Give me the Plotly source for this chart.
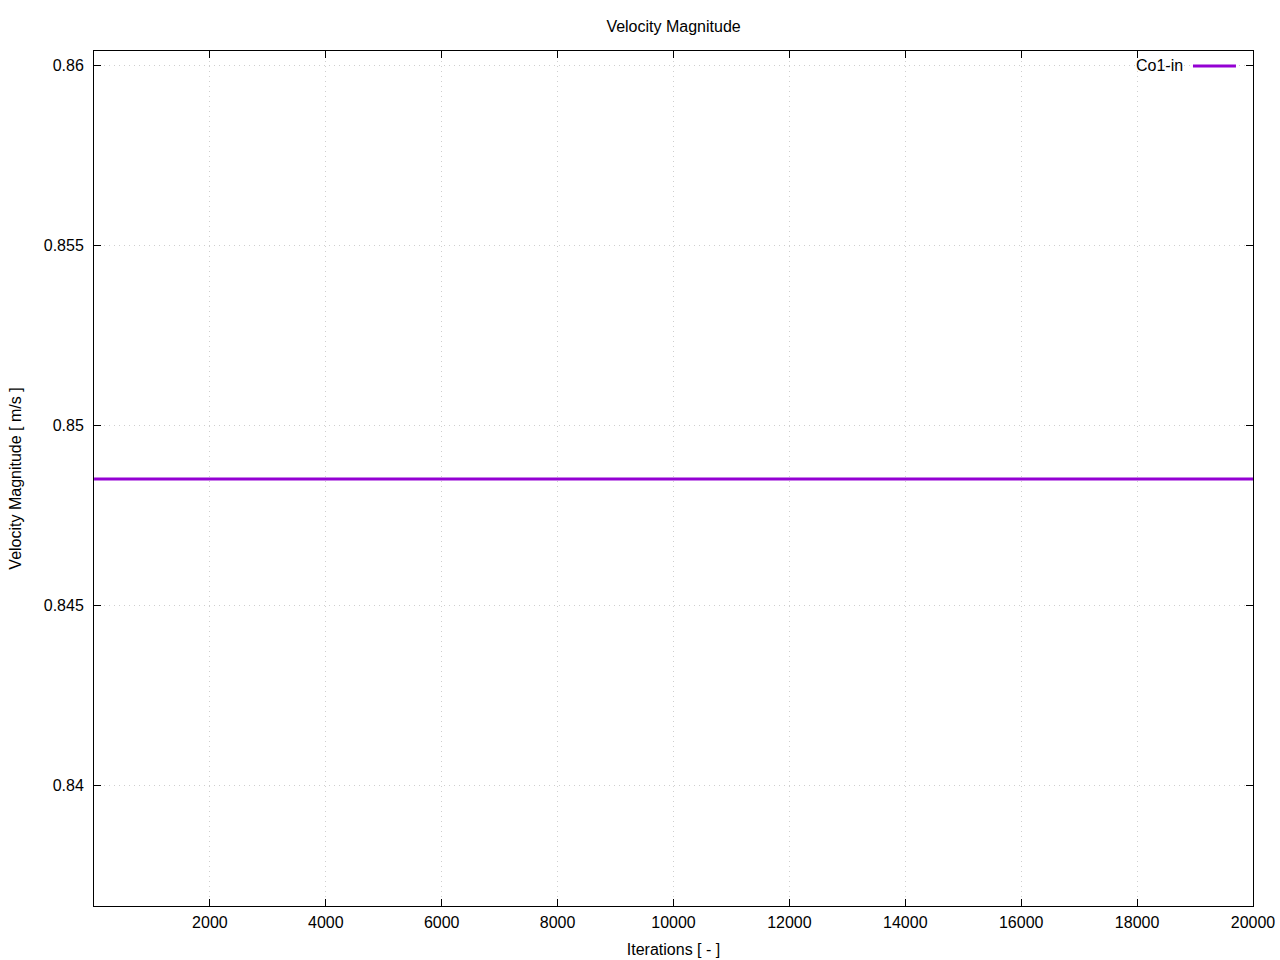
import plotly.graph_objects as go

iterations = [1, 2000, 4000, 6000, 8000, 10000, 12000, 14000, 16000, 18000, 20000]
velocity = [0.8485, 0.8485, 0.8485, 0.8485, 0.8485, 0.8485, 0.8485, 0.8485, 0.8485, 0.8485, 0.8485]
series_name = "Co1-in"
x_ticks = [2000, 4000, 6000, 8000, 10000, 12000, 14000, 16000, 18000, 20000]
x_tick_text = ["2000", "4000", "6000", "8000", "10000", "12000", "14000", "16000", "18000", "20000"]
y_ticks = [0.84, 0.845, 0.85, 0.855, 0.86]
y_tick_text = ["0.84", "0.845", "0.85", "0.855", "0.86"]

color = "#9400D3"
font = "Liberation Sans, Arial, sans-serif"

fig = go.Figure()
fig.add_trace(go.Scatter(x=iterations, y=velocity, mode="lines", name=series_name,
                         line=dict(color=color, width=3), showlegend=False))

axis_common = dict(showline=True, linecolor="black", linewidth=1, mirror="ticks",
                   ticks="inside", ticklen=7, tickcolor="black", showgrid=True,
                   gridcolor="#cfcfcf", griddash="1px,4px", gridwidth=1, zeroline=False,
                   automargin=False,
                   tickfont=dict(family=font, size=16, color="black"))

fig.update_xaxes(range=[0, 20000], tickvals=x_ticks, ticktext=x_tick_text, ticklabelstandoff=2, **axis_common,
                 title=dict(text="Iterations [ - ]", font=dict(family=font, size=16, color="black"), standoff=13))
fig.update_yaxes(range=[0.836639, 0.860389], tickvals=y_ticks, ticktext=y_tick_text, ticklabelstandoff=6, **axis_common,
                 title=dict(text="Velocity Magnitude [ m/s ]", font=dict(family=font, size=16, color="black"), standoff=18))

# legend (gnuplot style: text then sample line)
fig.add_annotation(x=0.941, y=0.9825, xref="paper", yref="paper", text=series_name,
                   showarrow=False, xanchor="right", yanchor="middle",
                   font=dict(family=font, size=16, color="black"))
fig.add_shape(type="line", xref="paper", yref="paper", x0=0.9482, x1=0.9853, y0=0.9825, y1=0.9825,
              line=dict(color=color, width=3))

fig.update_layout(
    width=1280, height=960,
    margin=dict(l=94, r=27, t=51, b=54),
    paper_bgcolor="white", plot_bgcolor="white",
    title=dict(text="Velocity Magnitude", x=0.5262, xanchor="center", y=1 - 26 / 960, yanchor="middle",
               yref="container", font=dict(family=font, size=16, color="black")),
)

fig.write_html("out.html", default_width="1280px", default_height="960px",
               config={"displayModeBar": False},
               post_script="document.body.style.margin='0';document.body.style.overflow='hidden';")
